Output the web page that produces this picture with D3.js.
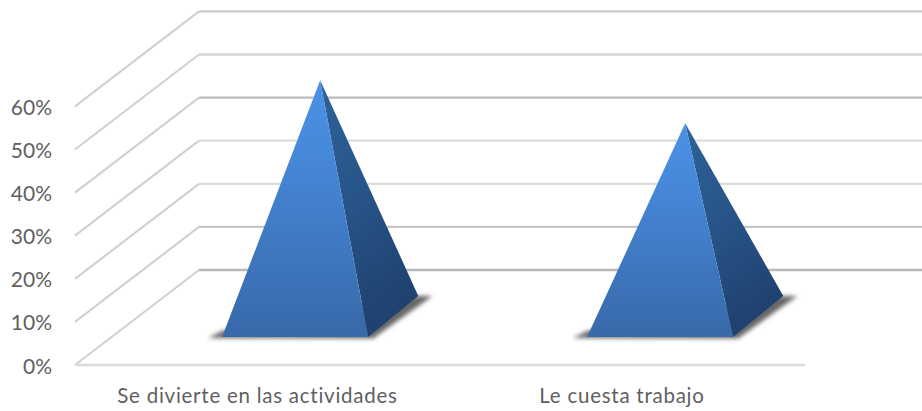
<!DOCTYPE html>
<html><head><meta charset="utf-8">
<script src="https://cdn.jsdelivr.net/npm/d3@7"></script>
<style>html,body{margin:0;padding:0;background:#fff}svg{display:block}</style></head>
<body><div id="c"></div>
<script>
const categories = ["Se divierte en las actividades", "Le cuesta trabajo"];
const values = [0.548, 0.448];
const yTicks = [0, 0.1, 0.2, 0.3, 0.4, 0.5, 0.6];
const W = 922, H = 411;
const x = d3.scaleBand().domain(categories).range([75, 805]);
const y = d3.scaleLinear().domain([0, 0.6]).range([365, 106.4]);
const depthX = 124, depthY = 95;
const proj = (px, v, t, ty = t) => [px + depthX * t, y(v) - depthY * ty];
const svg = d3.select("#c").append("svg").attr("width", W).attr("height", H);
const defs = svg.append("defs");
const blur = defs.append("filter").attr("id", "blur").attr("x", "-20%").attr("y", "-50%").attr("width", "140%").attr("height", "200%");
blur.append("feGaussianBlur").attr("stdDeviation", 1.9);
const soft = defs.append("filter").attr("id", "soft").attr("x", "-2%").attr("y", "-20%").attr("width", "104%").attr("height", "140%");
soft.append("feGaussianBlur").attr("stdDeviation", 0.5);
const lin = (id, a, b, stops) => {
  const g = defs.append("linearGradient").attr("id", id).attr("x1", a[0]).attr("y1", a[1]).attr("x2", b[0]).attr("y2", b[1]);
  stops.forEach(s => g.append("stop").attr("offset", s[0]).attr("stop-color", s[1]));
};
lin("front", [0, 0], [0, 1], [[0, "#4a92e6"], [0.3, "#4687d8"], [1, "#3869a9"]]);
lin("side", [0, 0], [0.3, 1], [[0, "#2d6299"], [0.5, "#285589"], [1, "#1f4270"]]);

const backColor = d3.scaleOrdinal().domain(yTicks).range(["#b8b8b8", "#c6c6c6", "#dcdcdc", "#dcdcdc", "#bdbdbd", "#d4d4d4", "#cccccc"]);
const grid = svg.append("g").attr("fill", "none").attr("filter", "url(#soft)");
yTicks.forEach(v => {
  const a = proj(75, v, 0), b = proj(75, v, 1), c = proj(W + 10, v, 1);
  grid.append("path").attr("d", d3.line()([a, b])).attr("stroke", "#d0d0d0").attr("stroke-width", 2.1);
  grid.append("path").attr("d", d3.line()([b, c])).attr("stroke", backColor(v)).attr("stroke-width", 2.3);
});
grid.append("path").attr("d", d3.line()([proj(75, 0, 0), proj(805, 0, 0)])).attr("stroke", "#dadada").attr("stroke-width", 2.6);

const t0 = 0.295, t1x = 0.70, t1y = 0.727;
const marks = svg.append("g");
categories.forEach((cat, i) => {
  const bw = x.bandwidth() * 0.4;
  const cx = x(cat) + x.bandwidth() / 2 + 1;
  const l = cx - bw / 2, r = cx + bw / 2;
  const fl = proj(l, 0, t0), fr = proj(r, 0, t0), br = proj(r, 0, t1x, t1y);
  const top = proj(cx, values[i], (t0 + t1x) / 2, (t0 + t1y) / 2);
  marks.append("path").attr("filter", "url(#blur)").attr("fill", "#666")
    .attr("d", d3.line()([[fl[0] - 14, fl[1] + 1], [fl[0], fl[1] - 6], [br[0], br[1]], [br[0] + 14, br[1]], [fr[0] + 5, fr[1] + 1.5]]) + "Z");
  marks.append("path").attr("fill", "url(#side)").attr("d", d3.line()([top, fr, br]) + "Z");
  marks.append("path").attr("fill", "url(#front)").attr("d", d3.line()([top, fl, fr]) + "Z");
});

svg.append("g").attr("font-family", "Lato, 'Open Sans', sans-serif").attr("font-size", 21).attr("fill", "#5f5f5f")
  .selectAll("text").data(yTicks).join("text")
  .attr("x", 52).attr("y", d => y(d) + 8.5).attr("text-anchor", "end")
  .text(d => d3.format(".0%")(d));
svg.append("g").attr("font-family", "Lato, 'Open Sans', sans-serif").attr("font-size", 20.5).attr("fill", "#5f5f5f")
  .attr("letter-spacing", 0.75)
  .selectAll("text").data(categories).join("text")
  .attr("x", d => x(d) + x.bandwidth() / 2 + (d === categories[0] ? 0 : -0.5)).attr("y", 403).attr("text-anchor", "middle")
  .text(d => d);
</script></body></html>
